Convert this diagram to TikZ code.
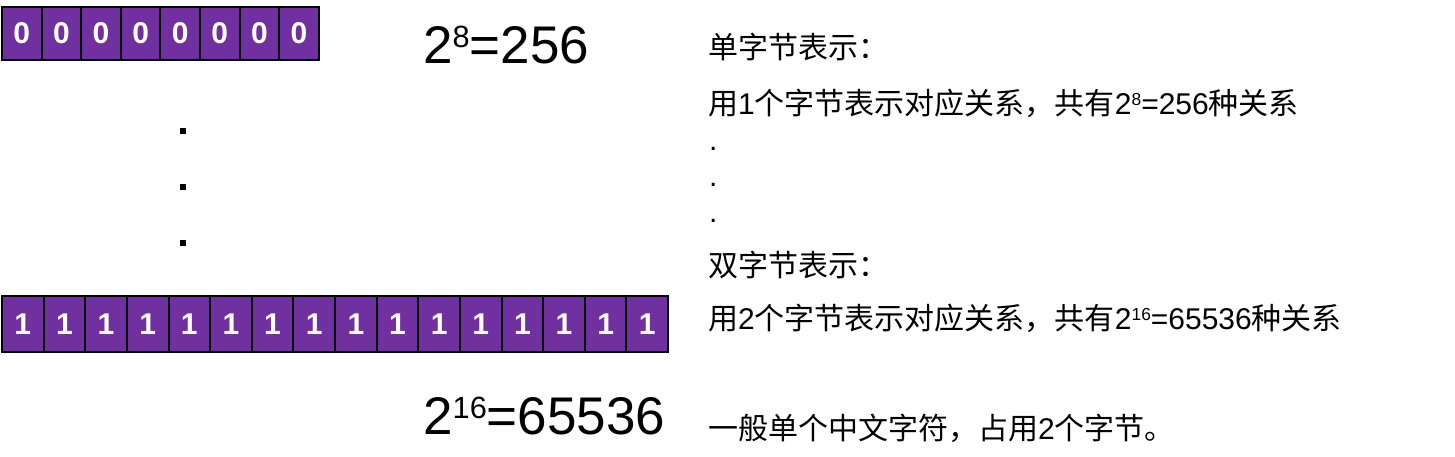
\documentclass[tikz,border=0pt]{standalone}
\usepackage{fontspec}
\usepackage{graphicx}
\setmainfont{Liberation Sans}
\newfontfamily\cjk{Noto Sans CJK SC}
\definecolor{bitPurple}{HTML}{7030A0}
\newcommand{\powtxt}[2]{#1\raisebox{0.30em}{\scalebox{0.58}{#2}}}

\begin{document}
\begin{tikzpicture}[x=1pt,y=-1pt,
	bitcell/.style={draw=black,line width=2pt,fill=bitPurple,text=white,
		font=\fontsize{30}{30}\selectfont\bfseries,inner sep=0pt,outer sep=0pt},
	vdot/.style={fill=black,minimum size=6pt,inner sep=0pt},
	note/.style={anchor=base west,inner sep=0pt,font=\fontsize{30}{36}\selectfont},
	bigpow/.style={anchor=base west,inner sep=0pt,font=\fontsize{53}{60}\selectfont}]
	\useasboundingbox(0,0)rectangle(1455,456);
	% one byte
	\foreach \i in{0,...,7}{
		\node[bitcell,minimum width=39.6pt,minimum height=53pt](b\i)at(21.8+39.6*\i,33.5){0};
	}
	\node[bigpow](pow8)at(423,63){\powtxt{2}{8}=256};
	\foreach \y[count=\k] in{131,187,243}{
		\node[vdot](v\k)at(183,\y){};
	}
	% two bytes
	\foreach \i in{0,...,15}{
		\node[bitcell,minimum width=41.63pt,minimum height=56pt](c\i)at(22.8+41.63*\i,324){1};
	}
	\node[bigpow](pow16)at(423,434){\powtxt{2}{16}=65536};
	% notes
	\node[note](t1)at(708,58){\cjk 单字节表示：};
	\node[note](t2)at(708,114){{\cjk 用}1{\cjk 个字节表示对应关系，共有}\powtxt{2}{8}=256{\cjk 种关系}};
	\foreach \y[count=\k] in{150,186,222}{
		\node[note](p\k)at(709,\y){.};
	}
	\node[note](t3)at(708,276){\cjk 双字节表示：};
	\node[note](t4)at(708,329){{\cjk 用}2{\cjk 个字节表示对应关系，共有}\powtxt{2}{16}=65536{\cjk 种关系}};
	\node[note](t5)at(708,439){{\cjk 一般单个中文字符，占用}2{\cjk 个字节。}};
\end{tikzpicture}
\end{document}
